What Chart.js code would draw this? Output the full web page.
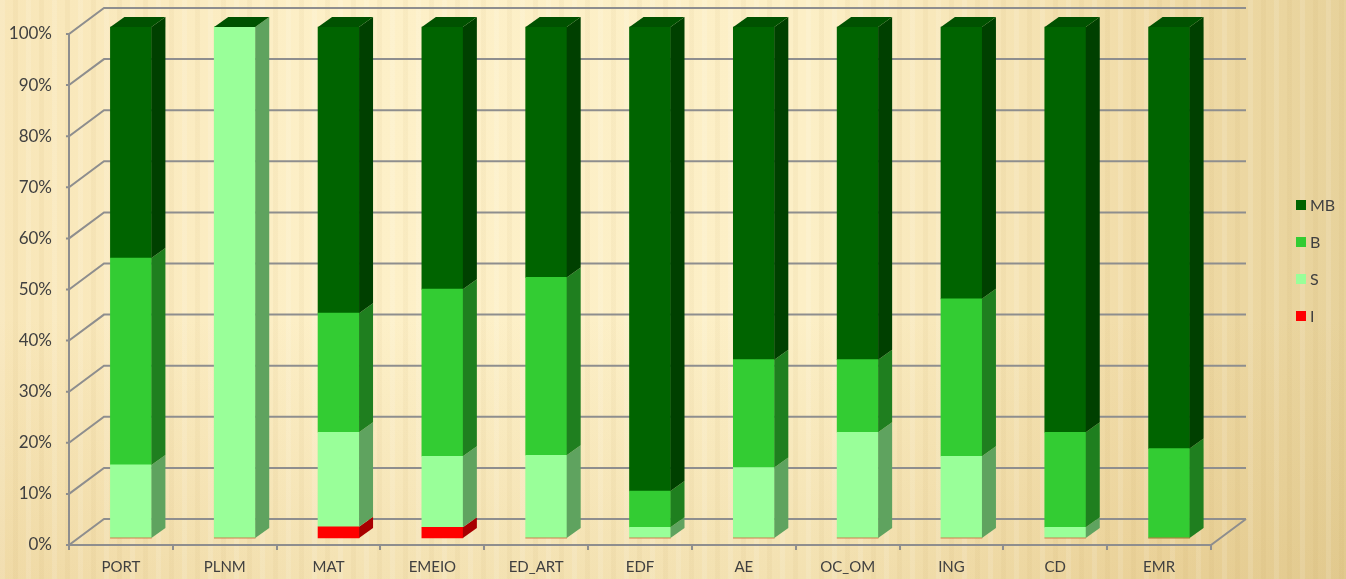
<!DOCTYPE html>
<html lang="pt">
    <head>
        <meta charset="UTF-8">
        <title>Avaliação por disciplina</title>
        <script src="https://cdn.jsdelivr.net/npm/chart.js@4.4.0/dist/chart.umd.min.js"></script>
        <style>
            body { margin: 0; }
            #wrap {
                position: relative; width: 1346px; height: 579px; overflow: hidden;
                background:
                    repeating-linear-gradient(90deg, rgba(255,255,255,0.12) 0 5px, rgba(0,0,0,0) 5px 13px, rgba(170,130,50,0.05) 13px 18px, rgba(0,0,0,0) 18px 26px),
                    linear-gradient(180deg, rgba(0,0,0,0) 55%, rgba(200,160,80,0.18) 100%),
                    linear-gradient(90deg, #f8e6b8 0%, #fdf0c8 25%, #fcefc6 60%, #f1dca8 85%, #e7d29b 100%);
            }
            #legend { position: absolute; left: 1296px; top: 196px; font: 16px Lato, sans-serif; color: #404040; }
            #legend div { height: 37px; line-height: 18px; }
            #legend span.box { display: inline-block; width: 10px; height: 10px; margin-right: 4px; vertical-align: 1px; }
        </style>
    </head>
    <body>
        <div id="wrap">
            <canvas id="notas" width="1346" height="579"></canvas>
            <div id="legend"></div>
        </div>
        <script>
            // disciplinas e percentagens
            var categories = ['PORT', 'PLNM', 'MAT', 'EMEIO', 'ED_ART', 'EDF', 'AE', 'OC_OM', 'ING', 'CD', 'EMR'];
            var I  = [0, 0, 2.2, 2.1, 0, 0, 0, 0, 0, 0, 0];
            var S  = [14.3, 100, 18.5, 13.9, 16.2, 2.1, 13.8, 20.7, 16.0, 2.1, 0];
            var B  = [40.5, 0, 23.3, 32.7, 34.8, 7.1, 21.1, 14.2, 30.8, 18.6, 17.5];
            var MB = [45.2, 0, 56.0, 51.3, 49.0, 90.8, 65.1, 65.1, 53.2, 79.3, 82.5];
            var yTicks = [0, 10, 20, 30, 40, 50, 60, 70, 80, 90, 100];

            var series = [
                { label: 'I',  data: I,  front: '#ff0000', side: '#a80000', top: '#b00000' },
                { label: 'S',  data: S,  front: '#99ff99', side: '#5fa35f', top: '#6fbf6f' },
                { label: 'B',  data: B,  front: '#33cc33', side: '#1f7f1f', top: '#239323' },
                { label: 'MB', data: MB, front: '#006400', side: '#004000', top: '#005200' }
            ];

            var DX = 35, DY = 26;     // profundidade da parede de fundo
            var SX = 14, SY = 10;     // profundidade das barras

            var depth3d = {
                id: 'depth3d',
                beforeDatasetsDraw: function(chart) {
                    var c = chart.ctx, a = chart.chartArea, yt = chart.scales.yt, x = chart.scales.x;
                    c.save();
                    c.strokeStyle = '#8e8e8e';
                    c.lineWidth = 2;
                    c.beginPath();
                    yTicks.forEach(function(v) {
                        var y = yt.getPixelForValue(v);
                        c.moveTo(a.left - 3, y);
                        c.lineTo(a.left, y);
                        c.lineTo(a.left + DX, y - DY);
                        c.lineTo(a.right + DX, y - DY);
                    });
                    c.moveTo(a.left, a.top);
                    c.lineTo(a.left, a.bottom);
                    c.lineTo(a.right, a.bottom);
                    c.lineTo(a.right + DX, a.bottom - DY);
                    for (var i = 0; i <= categories.length; i++) {
                        var tx = Math.round(x.getPixelForValue(i - 0.5));
                        c.moveTo(tx, a.bottom);
                        c.lineTo(tx, a.bottom + 5);
                    }
                    c.stroke();
                    c.restore();
                },
                afterDatasetsDraw: function(chart) {
                    var c = chart.ctx;
                    c.save();
                    chart.data.datasets.forEach(function(ds, d) {
                        chart.getDatasetMeta(d).data.forEach(function(bar) {
                            var p = bar.getProps(['x', 'y', 'base', 'width'], true);
                            var r = p.x + p.width / 2;
                            if (Math.abs(p.base - p.y) > 0.5) {
                                c.fillStyle = series[d].side;
                                c.beginPath();
                                c.moveTo(r, p.y);
                                c.lineTo(r + SX, p.y - SY);
                                c.lineTo(r + SX, p.base - SY);
                                c.lineTo(r, p.base);
                                c.closePath();
                                c.fill();
                            }
                        });
                    });
                    // tampo das colunas (sempre a cor da ultima serie)
                    var last = chart.data.datasets.length - 1;
                    chart.getDatasetMeta(last).data.forEach(function(bar) {
                        var p = bar.getProps(['x', 'y', 'width'], true);
                        var l = p.x - p.width / 2, r = p.x + p.width / 2;
                        c.fillStyle = series[last].top;
                        c.beginPath();
                        c.moveTo(l, p.y);
                        c.lineTo(l + SX, p.y - SY);
                        c.lineTo(r + SX, p.y - SY);
                        c.lineTo(r, p.y);
                        c.closePath();
                        c.fill();
                    });
                    c.restore();
                }
            };

            var ctx = document.getElementById('notas').getContext('2d');
            var notasChart = new Chart(ctx, {
                type: 'bar',
                data: {
                    labels: categories,
                    datasets: series.map(function(s) {
                        return {
                            label: s.label,
                            data: s.data.map(function(v, i) { return { x: i, y: v }; }),
                            backgroundColor: s.front,
                            borderWidth: 0,
                            barThickness: 41,
                            xAxisID: 'xb',
                            yAxisID: 'y',
                            clip: false
                        };
                    })
                },
                plugins: [depth3d],
                options: {
                    responsive: false,
                    animation: false,
                    layout: { padding: { left: 0, top: 34, right: 135, bottom: 0 } },
                    plugins: {
                        legend: { display: false },
                        tooltip: { enabled: false }
                    },
                    scales: {
                        x: {
                            type: 'category',
                            offset: true,
                            grid: { display: false, drawTicks: false },
                            border: { display: false },
                            ticks: { color: '#404040', font: { family: 'Lato', size: 15 }, padding: 13, maxRotation: 0 },
                            afterFit: function(scale) { scale.height = 34; }
                        },
                        xb: {
                            type: 'linear',
                            display: false,
                            stacked: true,
                            offset: false,
                            min: -0.5 - 10 / 103.8,
                            max: 10.5 - 10 / 103.8
                        },
                        y: {
                            display: false,
                            stacked: true,
                            min: -1.37,
                            max: 98.63
                        },
                        yt: {
                            type: 'linear',
                            position: 'left',
                            min: 0,
                            max: 100,
                            grid: { display: false, drawTicks: false },
                            border: { display: false },
                            ticks: {
                                stepSize: 10,
                                color: '#404040',
                                font: { family: 'Lato', size: 17 },
                                padding: 17,
                                callback: function(v) { return v + '%'; }
                            },
                            afterFit: function(scale) { scale.width = 69; }
                        }
                    }
                }
            });

            // legenda em HTML, na ordem inversa (MB em cima)
            var legend = document.getElementById('legend');
            series.slice().reverse().forEach(function(s) {
                var row = document.createElement('div');
                row.innerHTML = '<span class="box" style="background:' + s.front + '"></span>' + s.label;
                legend.appendChild(row);
            });
        </script>
    </body>
</html>
